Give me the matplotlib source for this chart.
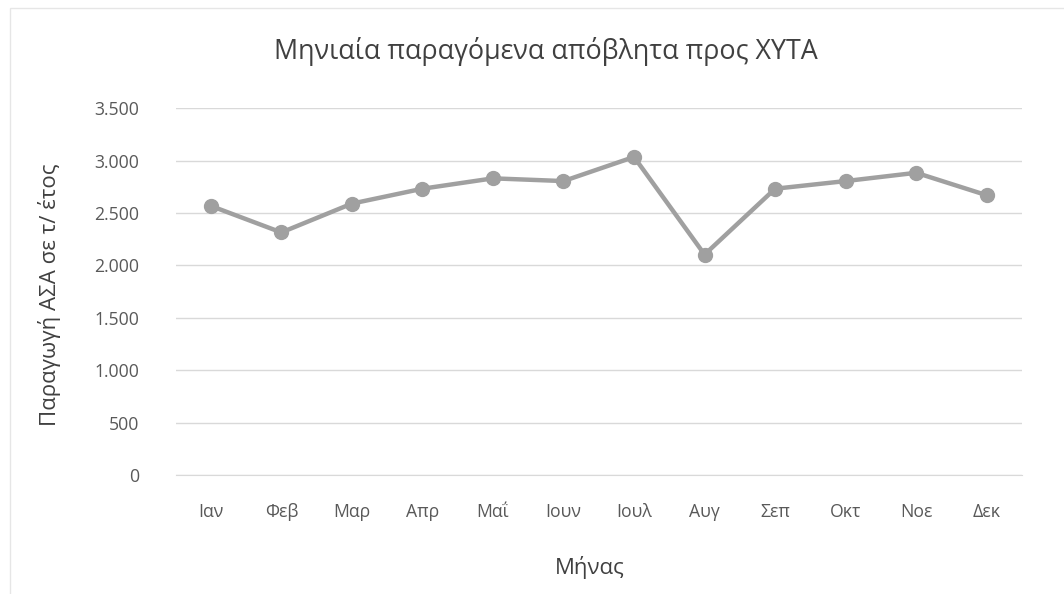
import matplotlib

matplotlib.use("Agg")
import matplotlib.pyplot as plt

# dati
mesi = ["Ιαν", "Φεβ", "Μαρ", "Απρ", "Μαΐ", "Ιουν", "Ιουλ", "Αυγ", "Σεπ", "Οκτ", "Νοε", "Δεκ"]
valori = [2567, 2314, 2589, 2731, 2830, 2804, 3034, 2103, 2731, 2804, 2883, 2669]
tick_y = [0, 500, 1000, 1500, 2000, 2500, 3000, 3500]
etichette_y = ["0", "500", "1.000", "1.500", "2.000", "2.500", "3.000", "3.500"]

plt.rcParams["font.family"] = ["Open Sans", "DejaVu Sans"]
testo = "#595959"

fig = plt.figure(figsize=(10.64, 5.94), dpi=100)
ax = fig.add_axes([0.165, 0.2003, 0.7955, 0.6177])

x = list(range(len(mesi)))
ax.plot(x, valori, color="#a0a0a0", linewidth=3.2, marker="o",
        markersize=10, markerfacecolor="#a0a0a0", markeredgecolor="#a0a0a0",
        solid_joinstyle="round", zorder=3)

ax.set_xlim(-0.5, len(mesi) - 0.5)
ax.set_ylim(0, 3500)
ax.set_yticks(tick_y)
ax.set_yticklabels(etichette_y)
ax.set_xticks(x)
ax.set_xticklabels(mesi)
ax.grid(axis="y", color="#d9d9d9", linewidth=1)
ax.set_axisbelow(True)
for s in ["top", "right", "left"]:
    ax.spines[s].set_visible(False)
ax.spines["bottom"].set_color("#d9d9d9")
ax.tick_params(axis="both", length=0, labelsize=12.7, labelcolor=testo)
ax.tick_params(axis="x", pad=20)
ax.tick_params(axis="y", pad=26)

fig.text(546 / 1064, 1 - 51 / 594, "Μηνιαία παραγόμενα απόβλητα προς ΧΥΤΑ",
         fontsize=19.4, color="#404040", ha="center", va="center")
ax.set_xlabel("Μήνας", fontsize=16, color="#404040")
ax.xaxis.set_label_coords(0.489, -0.221)
ax.set_ylabel("Παραγωγή ΑΣΑ σε τ/ έτος", fontsize=16, color="#404040")
ax.yaxis.set_label_coords(-0.135, 0.49)

# bordo leggero dell'area del grafico
fig.patches.append(plt.Rectangle((0.009, -0.01), 1.0, 0.997, transform=fig.transFigure,
                                 fill=False, edgecolor="#e6e6e6", linewidth=1))

plt.savefig("out.png", dpi=100)
plt.close()
